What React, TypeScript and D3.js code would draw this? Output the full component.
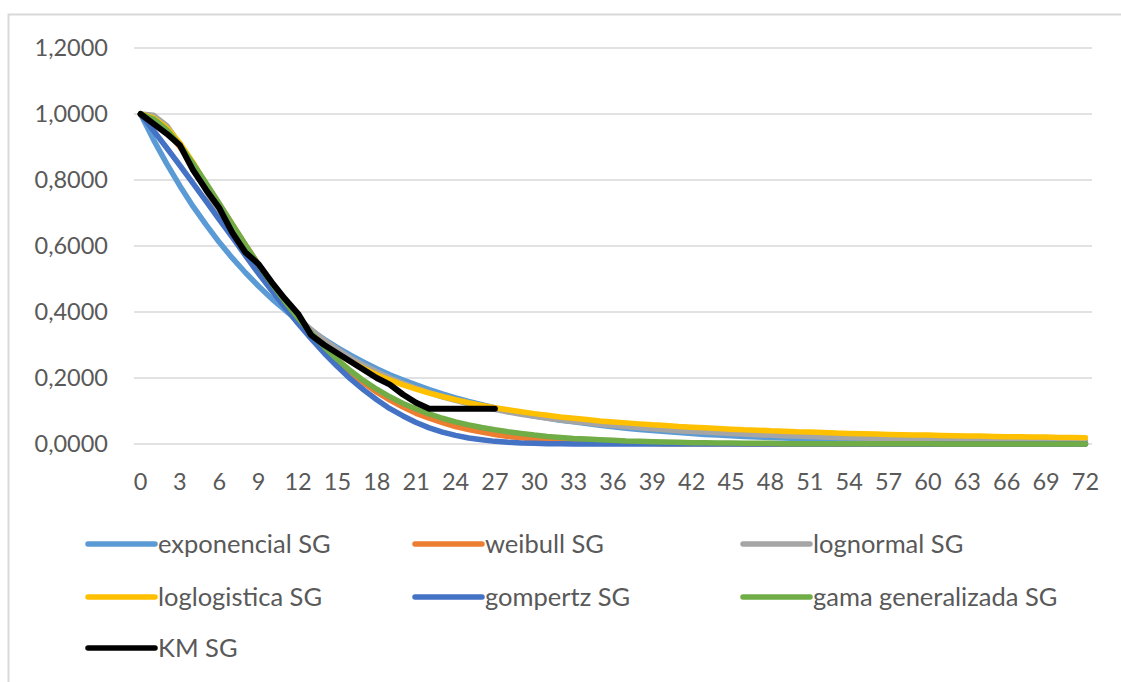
import React from "react";
import * as d3 from "d3";

const months: number[] = d3.range(0, 73);
const xTickLabels: number[] = d3.range(0, 73, 3);
const yTicks: number[] = [0, 0.2, 0.4, 0.6, 0.8, 1.0, 1.2];

const exponencial: number[] = [
  1.0, 0.921, 0.849, 0.782, 0.72, 0.664, 0.611, 0.563, 0.519, 0.478, 0.44, 0.406, 0.374, 0.344, 0.317, 0.292,
  0.269, 0.248, 0.228, 0.21, 0.194, 0.179, 0.165, 0.152, 0.14, 0.129, 0.119, 0.109, 0.101, 0.093, 0.085,
  0.079, 0.072, 0.067, 0.062, 0.057, 0.052, 0.048, 0.044, 0.041, 0.038, 0.035, 0.032, 0.029, 0.027, 0.025,
  0.023, 0.021, 0.02, 0.018, 0.017, 0.015, 0.014, 0.013, 0.012, 0.011, 0.01, 0.009, 0.009, 0.008, 0.007,
  0.007, 0.006, 0.006, 0.005, 0.005, 0.004, 0.004, 0.004, 0.003, 0.003, 0.003, 0.003,
];
const weibull: number[] = [
  1.0, 0.982, 0.946, 0.9, 0.846, 0.788, 0.727, 0.665, 0.603, 0.543, 0.485, 0.431, 0.38, 0.333, 0.29, 0.251,
  0.216, 0.185, 0.157, 0.133, 0.112, 0.093, 0.078, 0.065, 0.053, 0.044, 0.036, 0.029, 0.023, 0.019, 0.015,
  0.012, 0.01, 0.008, 0.006, 0.005, 0.004, 0.003, 0.002, 0.002, 0.001, 0.001, 0.001, 0.001, 0.001, 0.001,
  0, 0, 0, 0, 0, 0, 0, 0, 0, 0, 0, 0, 0, 0, 0, 0, 0, 0, 0, 0, 0, 0, 0, 0, 0, 0, 0,
];
const lognormal: number[] = [
  1.0, 0.996, 0.965, 0.908, 0.84, 0.767, 0.697, 0.631, 0.571, 0.516, 0.466, 0.422, 0.382, 0.347, 0.315, 0.287,
  0.261, 0.239, 0.219, 0.2, 0.184, 0.169, 0.156, 0.143, 0.132, 0.122, 0.113, 0.105, 0.097, 0.09, 0.084,
  0.078, 0.073, 0.068, 0.064, 0.059, 0.056, 0.052, 0.049, 0.046, 0.043, 0.04, 0.038, 0.036, 0.034, 0.032,
  0.03, 0.028, 0.027, 0.025, 0.024, 0.023, 0.021, 0.02, 0.019, 0.018, 0.017, 0.016, 0.016, 0.015, 0.014,
  0.013, 0.013, 0.012, 0.012, 0.011, 0.011, 0.01, 0.01, 0.009, 0.009, 0.008, 0.008,
];
const loglogistica: number[] = [
  1.0, 0.988, 0.958, 0.912, 0.853, 0.787, 0.718, 0.651, 0.588, 0.525, 0.468, 0.418, 0.373, 0.333, 0.3, 0.273,
  0.25, 0.229, 0.21, 0.194, 0.179, 0.166, 0.154, 0.144, 0.134, 0.125, 0.117, 0.11, 0.104, 0.098, 0.092,
  0.087, 0.082, 0.078, 0.074, 0.07, 0.067, 0.064, 0.061, 0.058, 0.056, 0.053, 0.051, 0.049, 0.047, 0.045,
  0.043, 0.042, 0.04, 0.039, 0.037, 0.036, 0.035, 0.033, 0.032, 0.031, 0.03, 0.029, 0.028, 0.027, 0.027,
  0.026, 0.025, 0.024, 0.024, 0.023, 0.022, 0.022, 0.021, 0.021, 0.02, 0.02, 0.019,
];
const gompertz: number[] = [
  1.0, 0.949, 0.897, 0.844, 0.79, 0.735, 0.68, 0.626, 0.571, 0.517, 0.465, 0.414, 0.365, 0.319, 0.275, 0.235,
  0.197, 0.164, 0.134, 0.107, 0.085, 0.065, 0.049, 0.036, 0.026, 0.018, 0.013, 0.008, 0.005, 0.003, 0.002,
  0.001, 0.001, 0, 0, 0, 0, 0, 0, 0, 0, 0, 0, 0, 0, 0, 0, 0, 0, 0, 0, 0, 0, 0, 0, 0, 0, 0, 0, 0, 0, 0, 0, 0,
  0, 0, 0, 0, 0, 0, 0, 0, 0,
];
const gamaGeneralizada: number[] = [
  1.0, 0.985, 0.952, 0.905, 0.85, 0.79, 0.728, 0.665, 0.603, 0.543, 0.486, 0.432, 0.382, 0.336, 0.294, 0.256,
  0.222, 0.192, 0.166, 0.143, 0.123, 0.106, 0.091, 0.078, 0.067, 0.058, 0.05, 0.043, 0.037, 0.032, 0.027,
  0.023, 0.02, 0.017, 0.015, 0.013, 0.011, 0.009, 0.008, 0.007, 0.006, 0.005, 0.004, 0.004, 0.003, 0.003,
  0.002, 0.002, 0.002, 0.001, 0.001, 0.001, 0.001, 0.001, 0.001, 0.001, 0.001, 0.001, 0.001, 0.001, 0.001,
  0, 0, 0, 0, 0, 0, 0, 0, 0, 0, 0, 0,
];
const kmSG: number[] = [
  1.0, 0.97, 0.94, 0.905, 0.83, 0.77, 0.715, 0.64, 0.58, 0.545, 0.49, 0.44, 0.395, 0.33, 0.3, 0.275, 0.25,
  0.225, 0.2, 0.18, 0.15, 0.125, 0.107, 0.107, 0.107, 0.107, 0.107, 0.107,
];

const seriesNames: string[] = [
  "exponencial SG",
  "weibull SG",
  "lognormal SG",
  "loglogistica SG",
  "gompertz SG",
  "gama generalizada SG",
  "KM SG",
];
const seriesColors: string[] = ["#5B9BD5", "#ED7D31", "#A5A5A5", "#FFC000", "#4472C4", "#70AD47", "#000000"];
const seriesData: number[][] = [exponencial, weibull, lognormal, loglogistica, gompertz, gamaGeneralizada, kmSG];

const W = 1121;
const H = 682;
const FONT = "Lato, 'Open Sans', sans-serif";
const TEXT = "#595959";

export default function App() {
  const x = d3.scalePoint<number>().domain(months).range([134, 1092]).padding(0.5);
  const y = d3.scaleLinear().domain([0, 1.2]).range([444, 48]);
  const line = d3
    .line<number>()
    .x((_, i) => x(months[i]) as number)
    .y((d) => y(d))
    .curve(d3.curveLinear);
  const fmt = (v: number) => d3.format(".4f")(v).replace(".", ",");

  const legendCols = [88, 415, 743];
  const legendRows = [544, 597, 648];

  return (
    <svg
      width={W}
      height={H}
      style={{ position: "absolute", left: 0, top: 0, background: "#fff" }}
      fontFamily={FONT}
    >
      <rect x={0} y={0} width={W} height={H} fill="#fff" />
      <rect x={8.5} y={14.5} width={W + 20} height={H + 20} fill="#fff" stroke="#D9D9D9" strokeWidth={2} />
      {yTicks.map((t) => (
        <g key={t}>
          <line x1={134} x2={1092} y1={y(t)} y2={y(t)} stroke="#D9D9D9" strokeWidth={1.3} />
          <text x={108} y={y(t)} dy="0.35em" textAnchor="end" fontSize={23.5} fill={TEXT}>
            {fmt(t)}
          </text>
        </g>
      ))}
      {xTickLabels.map((m) => (
        <text key={m} x={x(m)} y={482} dy="0.35em" textAnchor="middle" fontSize={23.5} fill={TEXT}>
          {m}
        </text>
      ))}
      {seriesData.map((s, i) => (
        <path
          key={seriesNames[i]}
          d={line(s) || ""}
          fill="none"
          stroke={seriesColors[i]}
          strokeWidth={i === 6 ? 6 : 5.5}
          strokeLinejoin="round"
          strokeLinecap="round"
        />
      ))}
      {seriesNames.map((n, i) => {
        const cx = legendCols[i % 3];
        const cy = legendRows[Math.floor(i / 3)];
        return (
          <g key={n}>
            <line x1={cx} x2={cx + 67} y1={cy} y2={cy} stroke={seriesColors[i]} strokeWidth={5.5} strokeLinecap="round" />
            <text x={cx + 70} y={cy} dy="0.35em" fontSize={25.5} fill={TEXT}>
              {n}
            </text>
          </g>
        );
      })}
    </svg>
  );
}
